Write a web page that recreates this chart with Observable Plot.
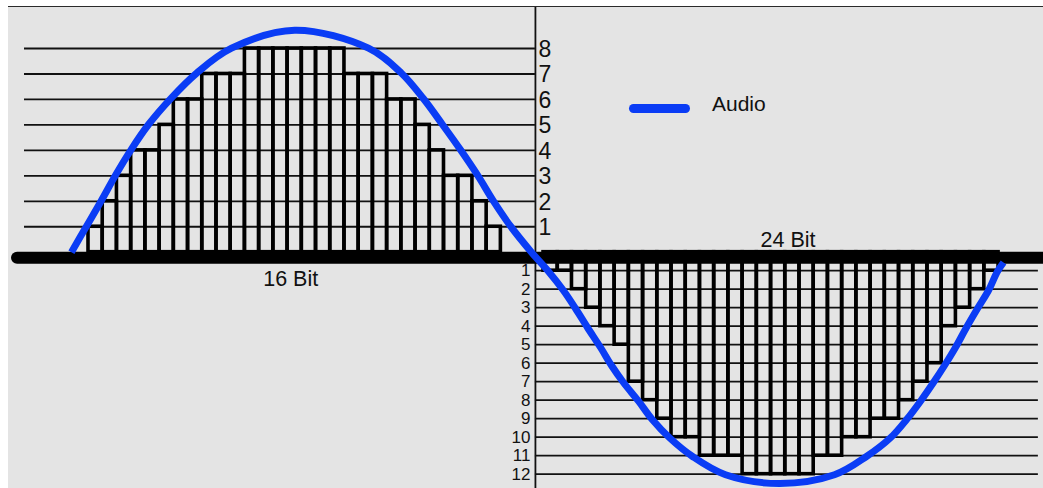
<!DOCTYPE html>
<html>
<head>
<meta charset="utf-8">
<script src="https://cdn.jsdelivr.net/npm/d3@7"></script>
<script src="https://cdn.jsdelivr.net/npm/@observablehq/plot@0.6"></script>
<style>
  html, body { margin: 0; padding: 0; background: #ffffff; }
  #wrap { position: relative; width: 1043px; height: 488px; overflow: hidden; font-family: "Liberation Sans", Arial, sans-serif; }
  #panel { position: absolute; left: 8px; top: 6px; right: 0; bottom: 0; background: #e4e4e4; border-top: 1.5px solid #2a2a2a; }
  #chart { position: absolute; left: 0; top: 0; }
  #legend-swatch { position: absolute; left: 629px; top: 104px; width: 61px; height: 9px; border-radius: 4.5px; background: #0a3cf5; }
  #legend-text { position: absolute; left: 712px; top: 92px; font-size: 21px; line-height: 24px; color: #111; }
</style>
</head>
<body>
<div id="wrap">
  <div id="panel"></div>
  <div id="chart"></div>
  <div id="legend-swatch"></div>
  <div id="legend-text">Audio</div>
</div>
<script>
// ---- data ----
// quantised levels of the positive half (16 Bit), one per sample, starting at sample 0
const posLevels = [1, 2, 3, 4, 4, 5, 6, 6, 7, 7, 7, 8, 8, 8, 8, 8, 8, 8, 7, 7, 7, 6, 6, 5, 4, 3, 3, 2, 1];
// quantised levels of the negative half (24 Bit), one per sample, starting at sample 32
const negLevels = [1, 1, 2, 3, 4, 5, 7, 8, 9, 10, 10, 11, 11, 11, 12, 12, 12, 12, 12, 11, 11, 10, 10, 9, 9, 8, 7, 6, 4, 3, 2, 1];
const posStart = 0;
const negStart = 32;
// quantisation step of each half (signal units)
const posStep = 25.46;
const negStep = 18.5;
// tick labels
const posTicks = [1, 2, 3, 4, 5, 6, 7, 8];
const negTicks = [1, 2, 3, 4, 5, 6, 7, 8, 9, 10, 11, 12];
// the analogue "Audio" wave, read point by point (time in samples, signal units)
const curveT = [-1.2, -0.14, 0.88, 1.9, 2.99, 4.22, 5.77, 7.6, 10.06, 14.5, 19.69, 22.01, 23.56, 24.89, 26.16, 27.36, 28.48, 29.68, 31.15,
                32.35, 33.4, 34.25, 35.09, 36.01, 36.78, 37.62, 38.68, 39.66, 40.86, 42.48, 44.8, 48.59,
                52.46, 54.71, 56.4, 57.52, 58.51, 59.42, 60.2, 60.97, 61.74, 62.52, 63.29, 63.92, 64.35];
const curveV = [0, 26, 51, 77, 102.4, 127.7, 153.4, 179, 204, 222, 204, 179, 153.4, 127.7, 102.4, 77, 51, 26, 0,
                -19.3, -38.3, -56.3, -75.3, -95.3, -113.3, -130.3, -149, -167.6, -185.6, -204.3, -222.6, -231.3,
                -222.6, -204.3, -185.6, -167.6, -149, -130.3, -113.3, -95.3, -75.3, -56.3, -38.3, -19.3, -10.3];
// where the vertical axis sits (in samples) and the extent of the level lines
const axisT = 31.43;
const posGridSpan = [-4.5, 31.43];
const negGridSpan = [31.43, 66.8];
const baselineSpan = [-4.99, 67.5];
const bitLabels = ["16 Bit", "24 Bit"];

// ---- build tables ----
const posBars = posLevels.map((l, i) => ({x1: posStart + i, x2: posStart + i + 1, y1: 0, y2: l * posStep}));
const negBars = negLevels.map((l, i) => ({x1: negStart + i, x2: negStart + i + 1, y1: 0, y2: -l * negStep}));
const curve = curveT.map((t, i) => ({t, v: curveV[i]}));
const posCenter = posStart + posLevels.length / 2;
const negCenter = negStart + negLevels.length / 2;

const BLUE = "#0a3cf5";
const INK = "#111";
const FONT = "'Liberation Sans', Arial, sans-serif";

const chart = Plot.plot({
  width: 1043,
  height: 488,
  marginLeft: 8,
  marginRight: 0,
  marginTop: 7,
  marginBottom: 0,
  x: {domain: [-5.626, 67.16], axis: null},
  y: {domain: [-236.3, 244.7], axis: null},
  style: {background: "transparent", fontFamily: FONT},
  marks: [
    Plot.ruleY(posTicks, {y: d => d * posStep, x1: () => posGridSpan[0], x2: () => posGridSpan[1], stroke: INK, strokeWidth: 1.8}),
    Plot.ruleY(negTicks, {y: d => -d * negStep, x1: () => negGridSpan[0], x2: () => negGridSpan[1], stroke: INK, strokeWidth: 1.8}),
    Plot.ruleX([axisT], {stroke: INK, strokeWidth: 1.8}),
    Plot.rect(posBars, {x1: "x1", x2: "x2", y1: "y1", y2: "y2", fill: "none", stroke: "#000", strokeWidth: 3.6}),
    Plot.rect(negBars, {x1: "x1", x2: "x2", y1: "y1", y2: "y2", fill: "none", stroke: "#000", strokeWidth: 3.6}),
    Plot.ruleY([0], {x1: () => baselineSpan[0], x2: () => baselineSpan[1], stroke: "#000", strokeWidth: 12, dy: 5.5, strokeLinecap: "round"}),
    Plot.line(curve, {x: "t", y: "v", curve: "catmull-rom", stroke: BLUE, strokeWidth: 7, strokeLinecap: "butt"}),
    Plot.text(posTicks, {x: () => axisT, y: d => d * posStep, text: d => String(d), textAnchor: "start", dx: 3, dy: 1, fontSize: 23, fill: INK}),
    Plot.text(negTicks, {x: () => axisT, y: d => -d * negStep, text: d => String(d), textAnchor: "end", dx: -5, fontSize: 17, fill: INK}),
    Plot.text([bitLabels[0]], {x: () => posCenter, y: () => 0, text: d => d, dx: -4, dy: 27, fontSize: 21.5, fill: INK}),
    Plot.text([bitLabels[1]], {x: () => negCenter, y: () => 0, text: d => d, dx: 17, dy: -12, fontSize: 21.5, fill: INK})
  ]
});
document.getElementById("chart").appendChild(chart);
</script>
</body>
</html>
